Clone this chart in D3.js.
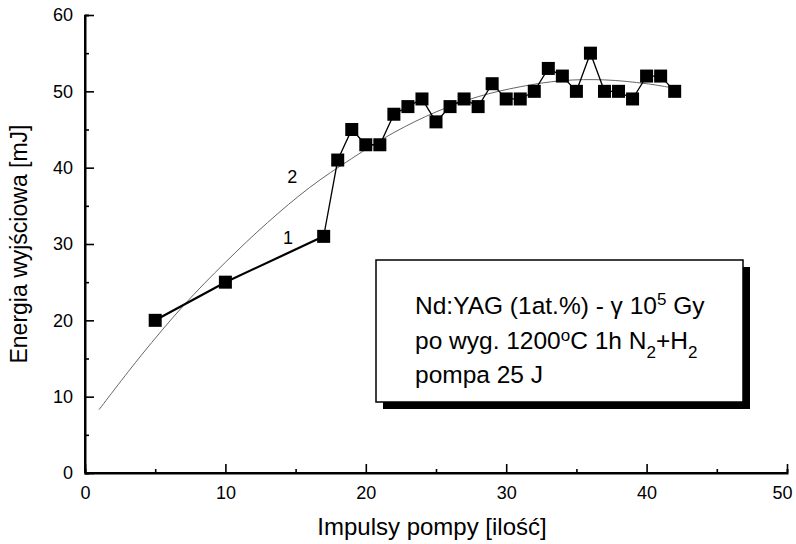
<!DOCTYPE html>
<html><head><meta charset="utf-8">
<script src="https://cdn.jsdelivr.net/npm/d3@7"></script>
<style>body{margin:0;background:#fff}svg{display:block}text{font-family:"Liberation Sans",Arial,Helvetica,sans-serif}</style>
</head><body>
<svg id="c" width="796" height="544"></svg>
<script>
const pulses = [5,10,17,18,19,20,21,22,23,24,25,26,27,28,29,30,31,32,33,34,35,36,37,38,39,40,41,42];
const energy = [20,25,31,41,45,43,43,47,48,49,46,48,49,48,51,49,49,50,53,52,50,55,50,50,49,52,52,50];
const fitX = [1,4,7,10,13,16,19,22,25,28,31,34,37,40,42];
const fitY = [8.3,15.4,21.9,27.6,32.8,37.4,41.2,44.6,47.3,49.3,50.6,51.4,51.5,51.0,50.4];
const xTicks = [0,10,20,30,40,50];
const yTicks = [0,10,20,30,40,50,60];
const legendLines = ["Nd:YAG (1at.%) - γ 10⁵ Gy","po wyg. 1200ºC 1h N₂+H₂","pompa 25 J"];

const svg = d3.select("#c");
const x = d3.scaleLinear().domain([0,50]).range([85,787]);
const y = d3.scaleLinear().domain([0,60]).range([473,15]);

// axes
const gx = svg.append("g").attr("transform","translate(0,473)")
  .call(d3.axisBottom(x).tickValues(xTicks).tickSize(-9).tickPadding(13).tickFormat(d3.format("d")));
const gxm = svg.append("g").attr("transform","translate(0,473)")
  .call(d3.axisBottom(x).tickValues([5,15,25,35,45]).tickSize(-4).tickFormat(""));
const gy = svg.append("g").attr("transform","translate(85,0)")
  .call(d3.axisLeft(y).tickValues(yTicks).tickSize(-9).tickPadding(12).tickFormat(d3.format("d")));
const gym = svg.append("g").attr("transform","translate(85,0)")
  .call(d3.axisLeft(y).tickValues([5,15,25,35,45,55]).tickSize(-4).tickFormat(""));
[gx,gxm,gy,gym].forEach(g=>{
  g.select(".domain").attr("stroke","#000").attr("stroke-width",2);
  g.selectAll(".tick line").attr("stroke","#000").attr("stroke-width",1.6);
  g.selectAll(".tick text").attr("fill","#000").style("font-size","18px");
});
gx.selectAll(".tick text").attr("dy","0.71em");
gx.selectAll(".tick text").filter(d=>d===50).attr("x",-5);
gx.select(".domain").attr("d","M85,0H787");
gy.select(".domain").attr("d","M0,473V15");

// fit curve 2
svg.append("path").datum(fitX.map((d,i)=>[d,fitY[i]]))
  .attr("fill","none").attr("stroke","#666").attr("stroke-width",1)
  .attr("d", d3.line().x(d=>x(d[0])).y(d=>y(d[1])).curve(d3.curveCatmullRom));

// data line 1
const pts = pulses.map((d,i)=>[d,energy[i]]);
svg.append("path").datum(pts.slice(0,3))
  .attr("fill","none").attr("stroke","#000").attr("stroke-width",2.2)
  .attr("d", d3.line().x(d=>x(d[0])).y(d=>y(d[1])));
svg.append("path").datum(pts.slice(2))
  .attr("fill","none").attr("stroke","#000").attr("stroke-width",1.3)
  .attr("d", d3.line().x(d=>x(d[0])).y(d=>y(d[1])));
svg.selectAll("rect.m").data(pts).enter().append("rect").attr("class","m")
  .attr("x",d=>x(d[0])-6.5).attr("y",d=>y(d[1])-6.5).attr("width",13).attr("height",13).attr("fill","#000");

// curve labels
svg.append("text").attr("x",x(14.4)).attr("y",y(38.0)).style("font-size","18px").text("2");
svg.append("text").attr("x",x(14.1)).attr("y",y(30.0)).style("font-size","18px").text("1");

// legend box
svg.append("rect").attr("x",383).attr("y",267).attr("width",367).attr("height",142).attr("fill","#000");
svg.append("rect").attr("x",376).attr("y",260).attr("width",367).attr("height",142).attr("fill","#fff").attr("stroke","#000").attr("stroke-width",1.5);
const lt = svg.append("g").style("font-size","24.5px");
lt.append("text").attr("x",415).attr("y",314).html('Nd:YAG (1at.%) - γ 10<tspan dy="-9" font-size="17">5</tspan><tspan dy="9"> Gy</tspan>');
lt.append("text").attr("x",415).attr("y",349).html('po wyg. 1200<tspan dy="-8" font-size="17">o</tspan><tspan dy="8">C 1h N</tspan><tspan dy="9" font-size="17">2</tspan><tspan dy="-9">+H</tspan><tspan dy="9" font-size="17">2</tspan>');
lt.append("text").attr("x",415).attr("y",383).text(legendLines[2]);

// axis titles
svg.append("text").attr("x",432).attr("y",535).attr("text-anchor","middle").style("font-size","24px").text("Impulsy pompy [ilość]");
svg.append("text").attr("transform","translate(27,244) rotate(-90)").attr("text-anchor","middle").style("font-size","23px").text("Energia wyjściowa [mJ]");
</script>
</body></html>
